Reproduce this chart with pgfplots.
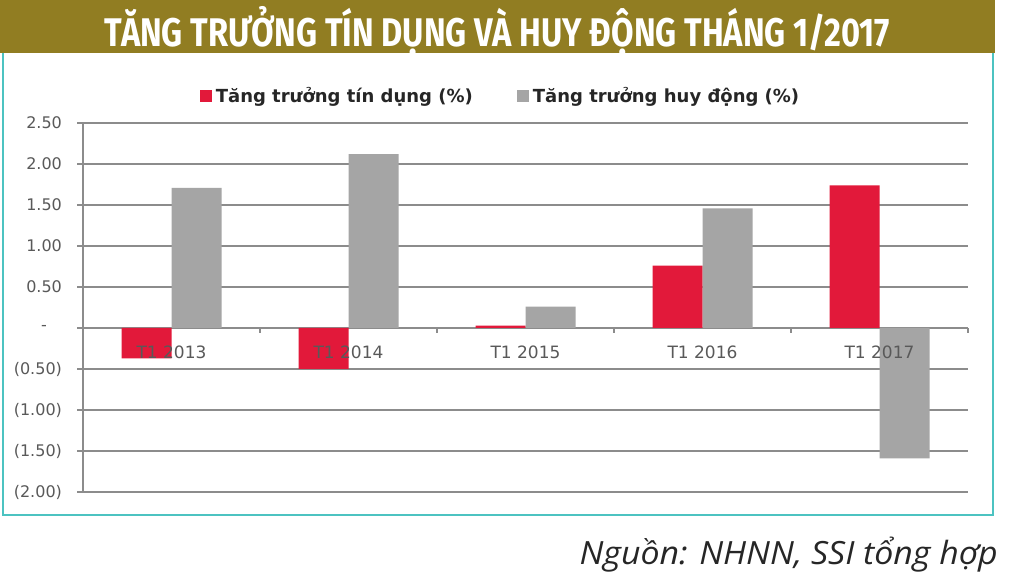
\documentclass[border=0pt]{standalone}
\usepackage{fontspec}
\setmainfont{DejaVu Sans}
\newfontfamily\titlefont{Fira Sans}
\newfontfamily\srcfont{Open Sans}
\usepackage{pgfplots}
\pgfplotsset{compat=1.18}
\definecolor{olivebar}{HTML}{917D22}
\definecolor{tealbox}{HTML}{4CC3C1}
\definecolor{barred}{HTML}{E2193A}
\definecolor{bargray}{HTML}{A5A5A5}
\definecolor{gridgray}{HTML}{8C8C8C}
\definecolor{labgray}{HTML}{595959}
\newsavebox\titlebox
\newsavebox\srcbox
\pgfplotsset{
  common/.style={
    at={(41.5pt,42.5pt)}, anchor=south west,
    scale only axis, width=442.5pt, height=184.5pt,
    xmin=-0.5, xmax=4.5, ymin=-2, ymax=2.5,
    axis x line*=middle, axis y line*=left,
  }
}
\begin{document}%
\sbox\titlebox{\color{white}\titlefont\bfseries\fontsize{20}{24}\selectfont TĂNG TRƯỞNG TÍN DỤNG VÀ HUY ĐỘNG THÁNG 1/2017}%
\sbox\srcbox{\color{black!85}\srcfont\itshape\fontsize{16}{19}\selectfont Nguồn: NHNN, SSI tổng hợp}%
\begin{tikzpicture}
\pgfmathsetmacro\tsx{392.5/\the\wd\titlebox}
\pgfmathsetmacro\ssx{209/\the\wd\srcbox}
\useasboundingbox (0,0) rectangle (507.5pt,288.5pt);
\fill[white] (0,0) rectangle (507.5pt,288.5pt);
\fill[olivebar] (0,262pt) rectangle (497.5pt,288.5pt);
\draw[tealbox, line width=1pt] (1.5pt,262pt) -- (1.5pt,31pt) -- (496.5pt,31pt) -- (496.5pt,262pt);
\node[anchor=base, inner sep=0pt] at (248.75pt,265pt) {\scalebox{\tsx}[1]{\usebox\titlebox}};
\node[anchor=base east, inner sep=0pt] at (499pt,6pt) {\scalebox{\ssx}[1]{\usebox\srcbox}};
\begin{axis}[
  common,
  ybar=0pt, bar width=25pt,
  xtick={0,1,2,3,4},
  xticklabels={},
  minor xtick={-0.5,0.5,1.5,2.5,3.5,4.5},
  major x tick style={draw=none},
  ytick={-2,-1.5,-1,-0.5,0,0.5,1,1.5,2,2.5},
  yticklabels={(2.00),(1.50),(1.00),(0.50),{-\kern7.5pt\null},0.50,1.00,1.50,2.00,2.50},
  tick align=outside,
  major tick length=3pt, minor tick length=2.5pt,
  ymajorgrids,
  grid style={gridgray, line width=1pt},
  axis line style={gridgray, line width=1pt},
  tick style={gridgray, line width=1pt},
  yticklabel style={font=\fontsize{8}{9}\selectfont, text=labgray, xshift=-4pt},
  legend style={at={(0.4729,1.0732)}, anchor=center, draw=none, fill=none,
    legend columns=2, font=\bfseries\fontsize{9}{11}\selectfont, text=black!85,
    /tikz/every even column/.append style={column sep=20pt}},
  legend image code/.code={\fill[#1] (0pt,-3pt) rectangle (6pt,3pt);},
]
\addplot[fill=barred, draw=none] coordinates {(0,-0.37) (1,-0.50) (2,0.03) (3,0.76) (4,1.74)};
\addplot[fill=bargray, draw=none] coordinates {(0,1.71) (1,2.12) (2,0.26) (3,1.46) (4,-1.59)};
\legend{Tăng trưởng tín dụng (\%), Tăng trưởng huy động (\%)}
\end{axis}
\begin{axis}[
  common,
  axis line style={draw=none},
  xtick={0,1,2,3,4},
  xticklabels={T1 2013,T1 2014,T1 2015,T1 2016,T1 2017},
  major x tick style={draw=none},
  ytick=\empty,
  xticklabel style={font=\fontsize{8.5}{10}\selectfont, text=labgray, yshift=-5.5pt},
]
\end{axis}
\end{tikzpicture}%
\end{document}
